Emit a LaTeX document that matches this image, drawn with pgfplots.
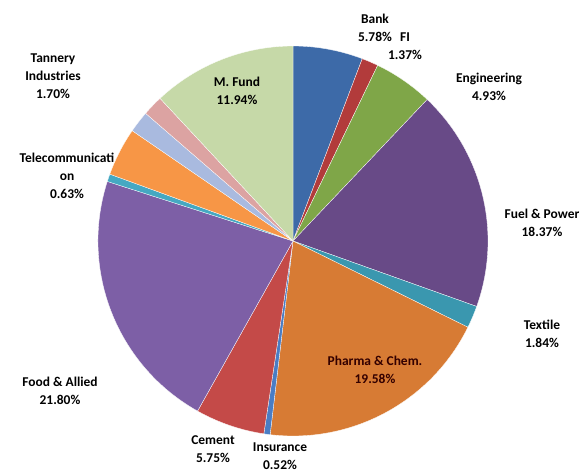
\documentclass[border=0pt]{standalone}
\usepackage{pgfplots}
\pgfplotsset{compat=1.18}
\usepackage{pgfplotstable}
\usepackage{fontspec}
\setmainfont{Carlito}

\definecolor{cbank}{HTML}{3D6AA8}
\definecolor{cfi}{HTML}{B23B3B}
\definecolor{ceng}{HTML}{7FA648}
\definecolor{cfuel}{HTML}{684A87}
\definecolor{ctext}{HTML}{3A97AF}
\definecolor{cpharma}{HTML}{D77B34}
\definecolor{cins}{HTML}{4A7DC4}
\definecolor{ccem}{HTML}{C44A48}
\definecolor{cfood}{HTML}{7D5FA6}
\definecolor{ctel}{HTML}{45A8C2}
\definecolor{cother}{HTML}{F79646}
\definecolor{cpaper}{HTML}{A9BADF}
\definecolor{ctan}{HTML}{DCA3A2}
\definecolor{cfund}{HTML}{C6D9A8}

\tikzset{lbl/.style={align=center, text=black, inner sep=0pt,
  font=\bfseries\fontsize{13.5}{18}\selectfont}}

% sector shares in %, clockwise from 12 o'clock
\pgfplotstableread{
sector value colour
Bank 5.78 cbank
FI 1.37 cfi
Engineering 4.93 ceng
Fuel 18.37 cfuel
Textile 1.84 ctext
Pharma 19.58 cpharma
Insurance 0.52 cins
Cement 5.75 ccem
Food 21.80 cfood
Telecom 0.63 ctel
Other 4.00 cother
Paper 1.79 cpaper
Tannery 1.70 ctan
Fund 11.94 cfund
}\slices

\begin{document}
\begin{tikzpicture}
\path[use as bounding box] (0,0) rectangle (583bp,474bp);
\begin{axis}[
  at={(0,0)}, anchor=south west,
  x=1bp, y=1bp,
  xmin=-293, xmax=290, ymin=-233, ymax=241,
  hide axis, clip=false,
]
\pgfplotstablegetrowsof{\slices}
\pgfmathtruncatemacro\lastrow{\pgfplotsretval-1}
\def\start{90}
\pgfplotsforeachungrouped \i in {0,...,\lastrow}{%
  \pgfplotstablegetelem{\i}{value}\of\slices \let\val\pgfplotsretval
  \pgfplotstablegetelem{\i}{colour}\of\slices \let\col\pgfplotsretval
  \pgfmathsetmacro\stop{\start-3.6*\val}%
  \edef\temp{\noexpand\fill[\col, draw=white, line width=0.3pt]
    (axis cs:0,0) -- ++(\start:195bp) arc[start angle=\start, end angle=\stop, radius=195bp] -- cycle;}%
  \temp
  \global\let\start\stop
}

\node[lbl] at (axis cs:82,213) {Bank\\5.78\%};
\node[lbl] at (axis cs:112,195) {FI\\1.37\%};
\node[lbl] at (axis cs:196,154) {Engineering\\4.93\%};
\node[lbl] at (axis cs:249,18) {Fuel \& Power\\18.37\%};
\node[lbl] at (axis cs:249,-93) {Textile\\1.84\%};
\node[lbl, text=black!80!red] at (axis cs:82,-129) {Pharma \& Chem.\\19.58\%};
\node[lbl] at (axis cs:-13,-215) {Insurance\\0.52\%};
\node[lbl] at (axis cs:-80,-208) {Cement\\5.75\%};
\node[lbl] at (axis cs:-233,-150) {Food \& Allied\\21.80\%};
\node[lbl] at (axis cs:-226,65) {Telecommunicati\\on\\0.63\%};
\node[lbl] at (axis cs:-240,165) {Tannery\\Industries\\1.70\%};
\node[lbl] at (axis cs:-56,150) {M. Fund\\11.94\%};
\end{axis}
\end{tikzpicture}
\end{document}
